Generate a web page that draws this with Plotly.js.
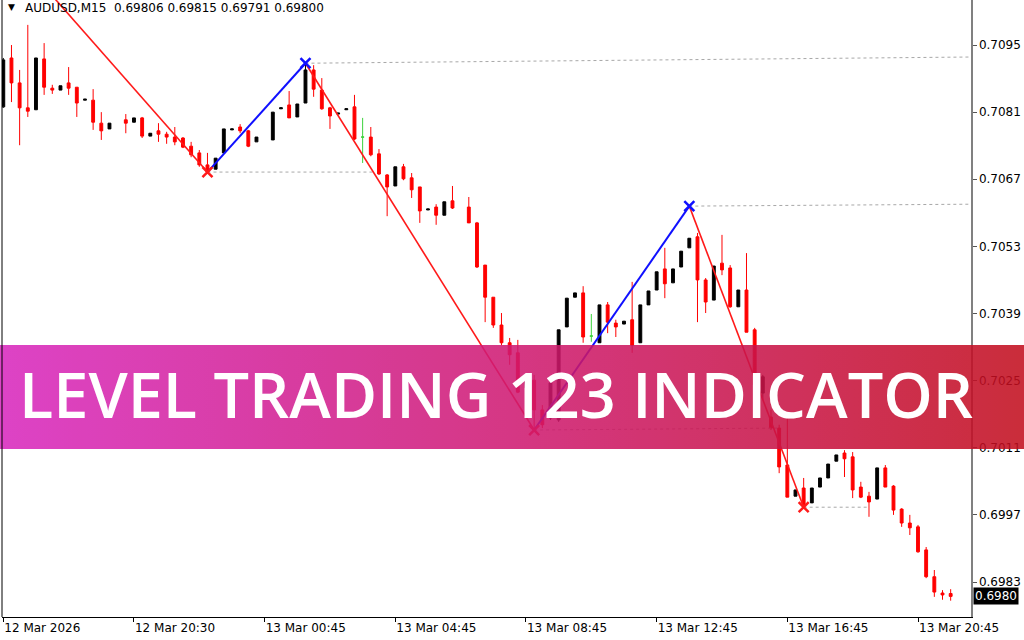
<!DOCTYPE html>
<html>
<head>
<meta charset="utf-8">
<script src="https://cdn.plot.ly/plotly-3.0.1.min.js"></script>
<style>html,body{margin:0;padding:0;background:#fff;}#chart{width:1024px;height:640px;}</style>
</head>
<body>
<div id="chart"></div>
<script>
// ---- Data (AUDUSD M15); null = no candle drawn ----
const symbolName = 'AUDUSD,M15';
const open = [
0.70821,0.70923,0.70871,0.70819,0.70815,0.70921,0.70860,0.70856,0.70871,0.70862,
0.70835,0.70835,0.70787,0.70775,null,0.70794,0.70789,0.70798,0.70760,0.70771,
0.70764,0.70758,0.70756,0.70739,0.70725,0.70700,0.70691,0.70725,0.70773,0.70779,
0.70771,0.70748,null,0.70752,0.70817,0.70825,0.70800,0.70829,0.70898,0.70856,
0.70819,0.70806,0.70815,0.70821,0.70758,0.70758,0.70723,0.70679,0.70656,0.70696,
0.70673,0.70654,0.70606,0.70612,0.70595,0.70625,null,0.70612,0.70579,0.70491,
0.70424,0.70366,0.70329,0.70308,0.70235,0.70251,0.70189,0.70172,0.70168,0.70362,
0.70424,0.70433,0.70343,0.70329,0.70408,0.70370,0.70368,0.70377,0.70329,0.70408,
0.70439,0.70483,0.70454,0.70487,0.70527,0.70550,0.70460,0.70418,0.70495,0.70485,
0.70404,0.70439,0.70356,0.70224,0.70174,0.70151,0.70074,0.70009,0.70026,0.69995,
0.70028,0.70047,0.70082,0.70099,0.70091,0.70028,0.70009,0.70003,0.70068,0.70030,
0.69982,0.69953,0.69945,0.69897,0.69841,0.69807,0.69806];
const high = [
0.70923,0.70950,0.70898,0.70992,0.70923,0.70954,0.70867,0.70865,0.70904,0.70862,
0.70837,0.70858,0.70810,0.70787,null,0.70806,0.70798,0.70800,0.70766,0.70787,
0.70769,0.70779,0.70758,0.70748,0.70731,0.70725,0.70714,0.70775,0.70775,0.70785,
0.70773,0.70758,null,0.70810,0.70819,0.70854,0.70827,0.70910,0.70908,0.70881,
0.70821,0.70808,0.70817,0.70846,0.70798,0.70779,0.70733,0.70681,0.70696,0.70702,
0.70683,0.70654,0.70608,0.70618,0.70623,0.70656,null,0.70633,0.70581,0.70491,
0.70424,0.70391,0.70339,0.70335,0.70247,0.70262,0.70199,0.70251,0.70356,0.70422,
0.70433,0.70447,0.70389,0.70408,0.70414,0.70377,0.70374,0.70456,0.70408,0.70437,
0.70477,0.70527,0.70483,0.70520,0.70547,0.70558,0.70464,0.70489,0.70554,0.70491,
0.70439,0.70516,0.70360,0.70262,0.70189,0.70158,0.70185,0.70022,0.70047,0.70026,
0.70047,0.70076,0.70095,0.70105,0.70101,0.70039,0.70018,0.70068,0.70074,0.70032,
0.69984,0.69970,0.69949,0.69903,0.69855,0.69813,0.69815];
const low = [
0.70819,0.70831,0.70741,0.70800,0.70815,0.70846,0.70848,0.70856,0.70846,0.70800,
0.70835,0.70773,0.70752,0.70775,null,0.70766,0.70789,0.70756,0.70760,0.70748,
0.70744,0.70741,0.70735,0.70716,0.70696,0.70683,0.70691,0.70725,0.70773,0.70766,
0.70737,0.70748,null,0.70752,0.70817,0.70798,0.70800,0.70829,0.70842,0.70815,
0.70775,0.70806,0.70815,0.70752,0.70704,0.70718,0.70679,0.70593,0.70656,0.70668,
0.70631,0.70579,0.70606,0.70575,0.70595,0.70608,null,0.70579,0.70485,0.70372,
0.70360,0.70324,0.70283,0.70224,0.70235,0.70147,0.70151,0.70168,0.70164,0.70362,
0.70424,0.70329,0.70331,0.70329,0.70349,0.70341,0.70368,0.70308,0.70329,0.70408,
0.70439,0.70422,0.70454,0.70487,0.70527,0.70372,0.70391,0.70418,0.70470,0.70402,
0.70404,0.70351,0.70231,0.70210,0.70147,0.70057,0.70007,0.70009,0.69984,0.69995,
0.70028,0.70047,0.70082,0.70049,0.70005,0.70005,0.69966,0.70003,0.70028,0.69970,
0.69945,0.69928,0.69891,0.69838,0.69799,0.69793,0.69791];
const close = [
0.70919,0.70871,0.70819,0.70812,0.70923,0.70862,0.70856,0.70865,0.70860,0.70829,
0.70837,0.70789,0.70771,0.70787,null,0.70787,0.70798,0.70760,0.70766,0.70764,
0.70758,0.70748,0.70737,0.70721,0.70700,0.70685,0.70714,0.70775,0.70775,0.70771,
0.70739,0.70758,null,0.70810,0.70819,0.70798,0.70827,0.70898,0.70858,0.70817,
0.70802,0.70808,0.70817,0.70754,0.70758,0.70721,0.70681,0.70654,0.70696,0.70671,
0.70648,0.70604,0.70608,0.70595,0.70623,0.70610,null,0.70579,0.70487,0.70424,
0.70366,0.70329,0.70304,0.70226,0.70247,0.70189,0.70158,0.70245,0.70356,0.70422,
0.70433,0.70341,0.70343,0.70408,0.70372,0.70362,0.70374,0.70324,0.70408,0.70437,
0.70477,0.70452,0.70483,0.70520,0.70547,0.70460,0.70414,0.70489,0.70481,0.70404,
0.70439,0.70351,0.70241,0.70258,0.70151,0.70070,0.70007,0.70022,0.69991,0.70026,
0.70047,0.70076,0.70095,0.70087,0.70022,0.70007,0.69997,0.70068,0.70028,0.69980,
0.69953,0.69943,0.69893,0.69841,0.69809,0.69803,0.69800];

// x-axis labels (bar index -> label)
const tickBars = [0, 16, 32, 48, 64, 80, 96, 112];
const tickLabels = ['12 Mar 2026','12 Mar 20:30','13 Mar 00:45','13 Mar 04:45','13 Mar 08:45','13 Mar 12:45','13 Mar 16:45','13 Mar 20:45'];
// y-axis labels
const priceTicks = [0.6983, 0.6997, 0.7011, 0.7025, 0.7039, 0.7053, 0.7067, 0.7081, 0.7095];

// 1-2-3 zigzag pivots (bar index, price)
const zzBar = [-1, 25, 37, 65, 84, 98];
const zzPrice = [0.71188, 0.70685, 0.70912, 0.70147, 0.70614, 0.69986];

// dashed level lines from each pivot
const lvlStartBar = [25, 37, 65, 84, 98];
const lvlEndBar = [45.5, 118.5, 95, 118.5, 106];
const lvlStartPrice = [0.70685, 0.70912, 0.70147, 0.70614, 0.69986];
const lvlEndPrice = [0.70685, 0.70925, 0.70151, 0.70618, 0.69986];

const bannerText = 'LEVEL TRADING 123 INDICATOR';

// ---- Build traces ----
const n = open.length;
const xs = [];
for (let i = 0; i < n; i++) xs.push(i);
const isDoji = i => open[i] !== null && open[i] === close[i];

const mainO = [], mainH = [], mainL = [], mainC = [];
const dX = [], dO = [], dH = [], dL = [], dC = [];
for (let i = 0; i < n; i++) {
  if (isDoji(i)) {
    mainO.push(null); mainH.push(null); mainL.push(null); mainC.push(null);
    dX.push(i); dO.push(open[i]); dH.push(high[i]); dL.push(low[i]); dC.push(close[i]);
  } else {
    mainO.push(open[i]); mainH.push(high[i]); mainL.push(low[i]); mainC.push(close[i]);
  }
}

const traces = [];
traces.push({
  type: 'candlestick', x: xs, open: mainO, high: mainH, low: mainL, close: mainC,
  increasing: {line: {color: '#000000', width: 1}, fillcolor: '#000000'},
  decreasing: {line: {color: '#FF0000', width: 1}, fillcolor: '#FF0000'},
  whiskerwidth: 0, hoverinfo: 'skip', showlegend: false
});
traces.push({
  type: 'candlestick', x: dX, open: dO, high: dH, low: dL, close: dC,
  increasing: {line: {color: '#3CD23C', width: 1}, fillcolor: '#3CD23C'},
  decreasing: {line: {color: '#3CD23C', width: 1}, fillcolor: '#3CD23C'},
  whiskerwidth: 0, hoverinfo: 'skip', showlegend: false
});

// level lines
for (let k = 0; k < lvlStartBar.length; k++) {
  traces.push({
    type: 'scatter', mode: 'lines',
    x: [lvlStartBar[k], lvlEndBar[k]], y: [lvlStartPrice[k], lvlEndPrice[k]],
    line: {color: '#A8A8A8', width: 1, dash: '3px,3px'}, hoverinfo: 'skip', showlegend: false
  });
}
// zigzag segments
for (let k = 0; k < zzBar.length - 1; k++) {
  const up = zzPrice[k + 1] > zzPrice[k];
  traces.push({
    type: 'scatter', mode: 'lines',
    x: [zzBar[k], zzBar[k + 1]], y: [zzPrice[k], zzPrice[k + 1]],
    line: {color: up ? '#1010FF' : '#FF1A1A', width: up ? 2 : 1.6},
    hoverinfo: 'skip', showlegend: false
  });
}
// pivot crosses
const pivCol = [];
for (let k = 1; k < zzBar.length; k++) pivCol.push(zzPrice[k] > zzPrice[k - 1] ? '#1010FF' : '#FF1A1A');
traces.push({
  type: 'scatter', mode: 'markers',
  x: zzBar.slice(1), y: zzPrice.slice(1),
  marker: {symbol: 'x-thin', size: 10, color: pivCol, line: {color: pivCol, width: 2.5}},
  hoverinfo: 'skip', showlegend: false
});

// ---- Banner gradient image ----
const svg = "<svg xmlns='http://www.w3.org/2000/svg' width='1024' height='104' viewBox='0 0 1024 104' preserveAspectRatio='none'>" +
  "<defs><linearGradient id='g' x1='0' y1='0' x2='1' y2='0'>" +
  "<stop offset='0' stop-color='#D828BE'/>" +
  "<stop offset='0.5' stop-color='#CF1A72'/>" +
  "<stop offset='1' stop-color='#C30E1E'/>" +
  "</linearGradient></defs><rect x='0' y='0' width='1024' height='104' fill='url(#g)'/></svg>";
const svgURI = 'data:image/svg+xml;charset=utf-8,' + encodeURIComponent(svg);

const W = 969, H = 617; // plot area size in px (left 2, top 0)
const px2paperX = px => (px - 2) / W;
const px2paperY = py => 1 - py / H;

const fontFam = 'DejaVu Sans, Verdana, sans-serif';
const headerText = symbolName + '\u00a0\u00a0' + [open, high, low, close].map(a => a[n - 1].toFixed(5)).join(' ');

const layout = {
  width: 1024, height: 640,
  margin: {l: 2, r: 53, t: 0, b: 23, pad: 0},
  paper_bgcolor: '#FFFFFF', plot_bgcolor: '#FFFFFF',
  showlegend: false, boxgap: 0.5,
  font: {family: fontFam, size: 12, color: '#000'},
  xaxis: {
    range: [-0.159, 118.49], showgrid: false, zeroline: false,
    showline: true, linecolor: '#000', linewidth: 1,
    ticks: 'outside', ticklen: 4, tickcolor: '#000', tickwidth: 1,
    tickvals: tickBars, ticktext: tickLabels, ticklabelposition: 'outside right',
    tickfont: {family: fontFam, size: 12, color: '#000'},
    rangeslider: {visible: false}, fixedrange: true
  },
  yaxis: {
    side: 'right', range: [0.69757, 0.710439], showgrid: false, zeroline: false,
    showline: true, linecolor: '#808080', linewidth: 1.5,
    ticks: 'outside', ticklen: 4, tickcolor: '#555', tickwidth: 1,
    tickvals: priceTicks, ticktext: priceTicks.map(v => v.toFixed(4)),
    tickfont: {family: fontFam, size: 12, color: '#000'}, fixedrange: true
  },
  shapes: [
    {type: 'line', xref: 'paper', yref: 'paper', x0: 0, x1: 0, y0: 0, y1: 1, line: {color: '#000', width: 1}}
  ],
  images: [{
    source: svgURI, xref: 'paper', yref: 'paper',
    x: px2paperX(0), y: px2paperY(345), sizex: 1024 / W, sizey: 104 / H,
    xanchor: 'left', yanchor: 'top', sizing: 'stretch', layer: 'above', opacity: 0.87
  }],
  annotations: [
    {xref: 'paper', yref: 'paper', x: px2paperX(11), y: 1, xanchor: 'center', yanchor: 'top',
     text: '\u25BC', showarrow: false, font: {family: fontFam, size: 9, color: '#000'}, yshift: 0},
    {xref: 'paper', yref: 'paper', x: px2paperX(23), y: 1, xanchor: 'left', yanchor: 'top',
     text: headerText, showarrow: false, font: {family: fontFam, size: 12, color: '#000'}, yshift: 1},
    {xref: 'paper', yref: 'y', x: 1, y: close[n - 1], xanchor: 'left', yanchor: 'middle',
     text: close[n - 1].toFixed(4), showarrow: false, bgcolor: '#000', borderpad: 1, xshift: 2,
     font: {family: fontFam, size: 12, color: '#FFF'}},
    {xref: 'paper', yref: 'paper', x: px2paperX(496), y: px2paperY(393), xanchor: 'center', yanchor: 'middle',
     text: bannerText, showarrow: false,
     font: {family: 'Open Sans, DejaVu Sans, sans-serif', size: 63, weight: 600, color: '#FFFFFF'}}
  ]
};

Plotly.newPlot('chart', traces, layout, {staticPlot: true, displayModeBar: false});
</script>
</body>
</html>
